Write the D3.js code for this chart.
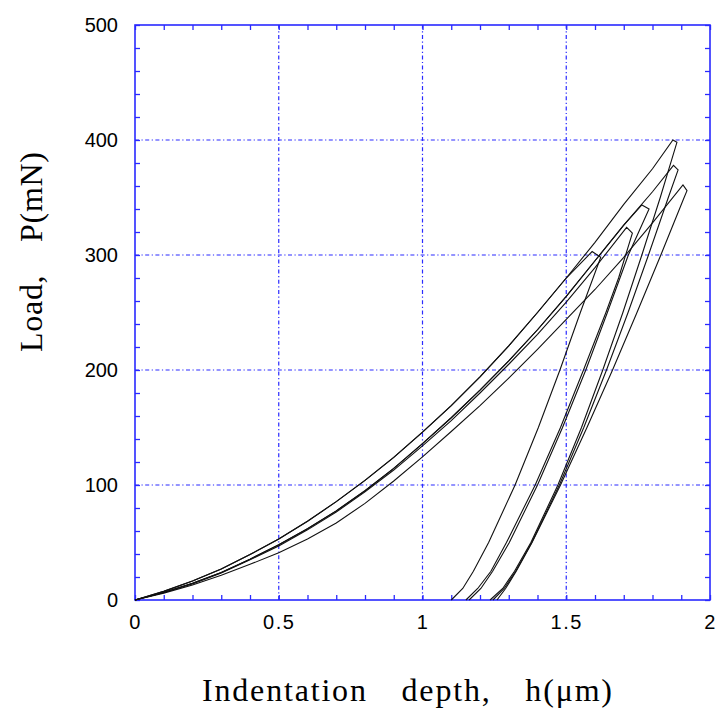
<!DOCTYPE html>
<html>
<head>
<meta charset="utf-8">
<script src="https://cdn.jsdelivr.net/npm/d3@7"></script>
<style>
  body { margin: 0; background: #fff; }
  svg { display: block; }
  .tick-label { font-family: "Liberation Sans", Arial, sans-serif; font-size: 20px; fill: #000; }
  .axis-title { font-family: "Liberation Serif", "Times New Roman", serif; font-size: 32px; fill: #000; }
</style>
</head>
<body>
<svg id="chart"></svg>
<script>
// indentation tests: [depth h (um), load P (mN)] -- loading, hold, unloading
const testA = [[0,0],[0.1,7.5],[0.2,16.5],[0.3,27],[0.4,39.5],[0.5,53],[0.6,68.5],[0.7,85.5],[0.8,104],[0.9,124],
  [1.0,146],[1.1,169],[1.2,194],[1.3,221],[1.4,250],[1.5,280],[1.6,311],[1.7,344],[1.8,375],[1.871,400],
  [1.885,398],[1.827,350],[1.763,300],[1.697,250],[1.627,200],[1.553,150],[1.471,100],[1.377,50],[1.32,25],[1.279,10],[1.235,0]];
const testB = [[0,0],[0.1,6.5],[0.2,14.5],[0.3,24],[0.4,35.5],[0.5,48],[0.6,62],[0.7,77.5],[0.8,95],[0.9,114.5],
  [1.0,136],[1.1,158.5],[1.2,182.5],[1.3,208],[1.4,235],[1.5,264],[1.6,295],[1.7,326],[1.8,355],[1.873,378],
  [1.889,374],[1.855,350],[1.786,300],[1.715,250],[1.64,200],[1.561,150],[1.476,100],[1.38,50],[1.324,25],[1.284,10],[1.245,0]];
const testC = [[0,0],[0.1,6],[0.2,13],[0.3,21.5],[0.4,31],[0.5,41],[0.6,53],[0.7,67],[0.8,84],[0.9,103.5],
  [1.0,124.5],[1.1,146.5],[1.2,169],[1.3,193],[1.4,218],[1.5,244],[1.6,270],[1.7,298],[1.8,328],[1.906,361],
  [1.92,356],[1.91,350],[1.829,300],[1.746,250],[1.661,200],[1.572,150],[1.48,100],[1.381,50],[1.326,25],[1.289,10],[1.259,0]];
const testD = [[0,0],[0.1,6.5],[0.2,14.5],[0.3,24],[0.4,35.5],[0.5,48],[0.6,62],[0.7,77.5],[0.8,95],[0.9,114.5],
  [1.0,136],[1.1,158.5],[1.2,182.5],[1.3,208],[1.4,235],[1.5,264],[1.6,295],[1.7,326],[1.763,343.5],
  [1.788,340],[1.716,300],[1.643,250],[1.568,200],[1.487,150],[1.40,100],[1.302,50],[1.244,25],[1.203,10],[1.162,0]];
const testE = [[0,0],[0.1,6.5],[0.2,14],[0.3,23.5],[0.4,35],[0.5,47],[0.6,61],[0.7,76.5],[0.8,94],[0.9,113],
  [1.0,134],[1.1,156],[1.2,180],[1.3,205],[1.4,231],[1.5,259],[1.6,289],[1.71,324],
  [1.73,319],[1.682,280],[1.638,250],[1.56,200],[1.48,150],[1.392,100],[1.292,50],[1.238,25],[1.192,10],[1.151,0]];
const testF = [[0,0],[0.1,7.5],[0.2,16.5],[0.3,27],[0.4,39.5],[0.5,53],[0.6,68.5],[0.7,85.5],[0.8,104],[0.9,124],
  [1.0,146],[1.1,169],[1.2,194],[1.3,221],[1.4,250],[1.5,280],[1.59,303],
  [1.62,298],[1.549,250],[1.478,200],[1.403,150],[1.322,100],[1.23,50],[1.177,25],[1.14,10],[1.10,0]];
const tests = [testA, testB, testC, testD, testE, testF];

const xMajor = [0, 0.5, 1, 1.5, 2];
const yMajor = [0, 100, 200, 300, 400, 500];

const width = 718, height = 711;
const margin = {top: 25, right: 8, bottom: 111, left: 135};
const blue = "#2a2aff";

const svg = d3.select("#chart").attr("width", width).attr("height", height);

const x = d3.scaleLinear().domain([0, 2]).range([margin.left, width - margin.right]);
const y = d3.scaleLinear().domain([0, 500]).range([height - margin.bottom, margin.top]);

// grid (dash-dot)
const grid = svg.append("g").attr("class", "grid")
  .attr("stroke", blue).attr("stroke-width", 1.2).attr("stroke-dasharray", "4,2.5,1.2,2.5");
grid.selectAll(".gx").data(xMajor.slice(1, -1)).join("line")
  .attr("x1", d => x(d)).attr("x2", d => x(d)).attr("y1", y(0)).attr("y2", y(500));
grid.selectAll(".gy").data(yMajor.slice(1, -1)).join("line")
  .attr("x1", x(0)).attr("x2", x(2)).attr("y1", d => y(d)).attr("y2", d => y(d));

// minor ticks on all four sides, pointing inward
const xMinor = d3.range(0, 2.0001, 0.1);
const yMinor = d3.range(0, 500.01, 20);
function styleTicks(g) {
  g.select(".domain").remove();
  g.selectAll(".tick line").attr("stroke", blue).attr("stroke-width", 1.3);
  g.selectAll(".tick text").remove();
}
svg.append("g").attr("transform", `translate(0,${y(0)})`)
  .call(d3.axisBottom(x).tickValues(xMinor).tickSize(-5)).call(styleTicks);
svg.append("g").attr("transform", `translate(0,${y(500)})`)
  .call(d3.axisTop(x).tickValues(xMinor).tickSize(-5)).call(styleTicks);
svg.append("g").attr("transform", `translate(${x(0)},0)`)
  .call(d3.axisLeft(y).tickValues(yMinor).tickSize(-5)).call(styleTicks);
svg.append("g").attr("transform", `translate(${x(2)},0)`)
  .call(d3.axisRight(y).tickValues(yMinor).tickSize(-5)).call(styleTicks);

// frame
svg.append("rect")
  .attr("x", x(0)).attr("y", y(500))
  .attr("width", x(2) - x(0)).attr("height", y(0) - y(500))
  .attr("fill", "none").attr("stroke", blue).attr("stroke-width", 1.6);

// tick labels
const xAxis = svg.append("g").attr("transform", `translate(0,${y(0)})`)
  .call(d3.axisBottom(x).tickValues(xMajor).tickSize(0).tickPadding(15).tickFormat(d => String(d)));
xAxis.select(".domain").remove();
xAxis.selectAll("text").attr("class", "tick-label").attr("font-family", null).attr("font-size", null)
  .attr("fill", null).attr("letter-spacing", "1.5px");

const yAxis = svg.append("g").attr("transform", `translate(${x(0)},0)`)
  .call(d3.axisLeft(y).tickValues(yMajor).tickSize(0).tickPadding(17).tickFormat(d => String(d)));
yAxis.select(".domain").remove();
yAxis.selectAll("text").attr("class", "tick-label").attr("font-family", null).attr("font-size", null)
  .attr("fill", null);

// curves
const line = d3.line()
  .x(d => x(d[0]))
  .y(d => y(d[1]));

svg.append("g").selectAll("path").data(tests).join("path")
  .attr("d", line)
  .attr("fill", "none")
  .attr("stroke", "#111")
  .attr("stroke-width", 1.1)
  .attr("stroke-linejoin", "miter");

// axis titles
svg.append("text").attr("class", "axis-title")
  .attr("x", 202).attr("y", 701)
  .attr("textLength", 410).attr("lengthAdjust", "spacing")
  .text("Indentation\u3000depth,\u3000h(\u03bcm)");

svg.append("text").attr("class", "axis-title")
  .attr("transform", "translate(42,352) rotate(-90)")
  .attr("x", 0).attr("y", 0)
  .attr("textLength", 200).attr("lengthAdjust", "spacing")
  .text("Load,\u3000P(mN)");
</script>
</body>
</html>
